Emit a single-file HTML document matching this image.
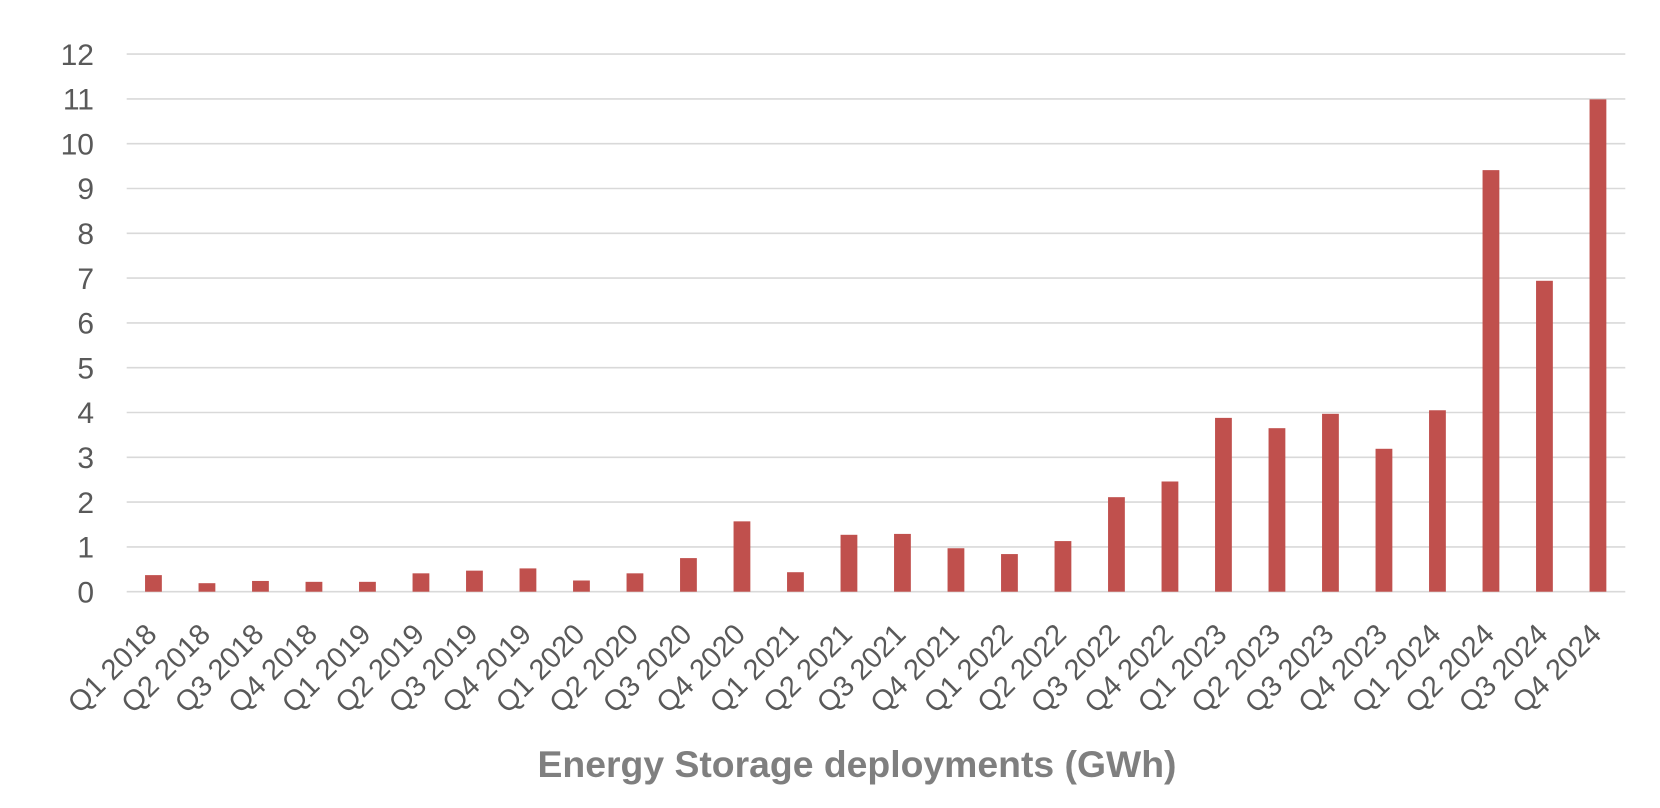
<!DOCTYPE html>
<html>
<head>
<meta charset="utf-8">
<style>
  html, body { margin: 0; padding: 0; background: #ffffff; }
  svg { display: block; }
  .yl { font-family: "Liberation Sans", Arial, sans-serif; font-size: 30px; fill: #595959; text-anchor: end; }
  .xl { font-family: "Liberation Sans", Arial, sans-serif; font-size: 29px; fill: #595959; text-anchor: end; }
  .title { font-family: "Liberation Sans", Arial, sans-serif; font-size: 37px; font-weight: bold; fill: #7f7f7f; text-anchor: middle; }
</style>
</head>
<body>
<svg width="1660" height="808" viewBox="0 0 1660 808" xmlns="http://www.w3.org/2000/svg">
  <rect x="0" y="0" width="1660" height="808" fill="#ffffff"/>
  <!-- gridlines -->
  <g stroke="#d9d9d9" stroke-width="1.6">
    <line x1="126.7" x2="1625.3" y1="54.1" y2="54.1"/>
    <line x1="126.7" x2="1625.3" y1="98.9" y2="98.9"/>
    <line x1="126.7" x2="1625.3" y1="143.7" y2="143.7"/>
    <line x1="126.7" x2="1625.3" y1="188.5" y2="188.5"/>
    <line x1="126.7" x2="1625.3" y1="233.3" y2="233.3"/>
    <line x1="126.7" x2="1625.3" y1="278.1" y2="278.1"/>
    <line x1="126.7" x2="1625.3" y1="322.9" y2="322.9"/>
    <line x1="126.7" x2="1625.3" y1="367.7" y2="367.7"/>
    <line x1="126.7" x2="1625.3" y1="412.5" y2="412.5"/>
    <line x1="126.7" x2="1625.3" y1="457.3" y2="457.3"/>
    <line x1="126.7" x2="1625.3" y1="502.1" y2="502.1"/>
    <line x1="126.7" x2="1625.3" y1="546.9" y2="546.9"/>
    <line x1="126.7" x2="1625.3" y1="591.7" y2="591.7"/>
  </g>
  <!-- y labels -->
  <g class="yl">
    <text x="94" y="64.8">12</text>
    <text x="94" y="109.6">11</text>
    <text x="94" y="154.4">10</text>
    <text x="94" y="199.2">9</text>
    <text x="94" y="244">8</text>
    <text x="94" y="288.8">7</text>
    <text x="94" y="333.6">6</text>
    <text x="94" y="378.4">5</text>
    <text x="94" y="423.2">4</text>
    <text x="94" y="468">3</text>
    <text x="94" y="512.8">2</text>
    <text x="94" y="557.6">1</text>
    <text x="94" y="602.4">0</text>
  </g>
  <!-- bars -->
  <g fill="#c0504d">
    <rect x="145.05" y="575.12" width="16.8" height="16.58"/>
    <rect x="198.55" y="583.19" width="16.8" height="8.51"/>
    <rect x="252.05" y="580.95" width="16.8" height="10.75"/>
    <rect x="305.55" y="581.84" width="16.8" height="9.86"/>
    <rect x="359.05" y="581.84" width="16.8" height="9.86"/>
    <rect x="412.55" y="573.33" width="16.8" height="18.37"/>
    <rect x="466.05" y="570.64" width="16.8" height="21.06"/>
    <rect x="519.55" y="568.40" width="16.8" height="23.30"/>
    <rect x="573.05" y="580.50" width="16.8" height="11.20"/>
    <rect x="626.55" y="573.33" width="16.8" height="18.37"/>
    <rect x="680.05" y="558.10" width="16.8" height="33.60"/>
    <rect x="733.55" y="521.36" width="16.8" height="70.34"/>
    <rect x="787.05" y="572.21" width="16.8" height="19.49"/>
    <rect x="840.55" y="534.80" width="16.8" height="56.90"/>
    <rect x="894.05" y="533.91" width="16.8" height="57.79"/>
    <rect x="947.55" y="548.24" width="16.8" height="43.46"/>
    <rect x="1001.05" y="554.07" width="16.8" height="37.63"/>
    <rect x="1054.55" y="541.08" width="16.8" height="50.62"/>
    <rect x="1108.05" y="497.17" width="16.8" height="94.53"/>
    <rect x="1161.55" y="481.49" width="16.8" height="110.21"/>
    <rect x="1215.05" y="417.88" width="16.8" height="173.82"/>
    <rect x="1268.55" y="428.18" width="16.8" height="163.52"/>
    <rect x="1322.05" y="413.84" width="16.8" height="177.86"/>
    <rect x="1375.55" y="448.79" width="16.8" height="142.91"/>
    <rect x="1429.05" y="410.26" width="16.8" height="181.44"/>
    <rect x="1482.55" y="170.13" width="16.8" height="421.57"/>
    <rect x="1536.05" y="280.79" width="16.8" height="310.91"/>
    <rect x="1589.55" y="99.35" width="16.8" height="492.35"/>
  </g>
  <!-- x labels -->
  <g class="xl">
    <text transform="translate(158.45,636) rotate(-45)">Q1 2018</text>
    <text transform="translate(211.95,636) rotate(-45)">Q2 2018</text>
    <text transform="translate(265.45,636) rotate(-45)">Q3 2018</text>
    <text transform="translate(318.95,636) rotate(-45)">Q4 2018</text>
    <text transform="translate(372.45,636) rotate(-45)">Q1 2019</text>
    <text transform="translate(425.95,636) rotate(-45)">Q2 2019</text>
    <text transform="translate(479.45,636) rotate(-45)">Q3 2019</text>
    <text transform="translate(532.95,636) rotate(-45)">Q4 2019</text>
    <text transform="translate(586.45,636) rotate(-45)">Q1 2020</text>
    <text transform="translate(639.95,636) rotate(-45)">Q2 2020</text>
    <text transform="translate(693.45,636) rotate(-45)">Q3 2020</text>
    <text transform="translate(746.95,636) rotate(-45)">Q4 2020</text>
    <text transform="translate(800.45,636) rotate(-45)">Q1 2021</text>
    <text transform="translate(853.95,636) rotate(-45)">Q2 2021</text>
    <text transform="translate(907.45,636) rotate(-45)">Q3 2021</text>
    <text transform="translate(960.95,636) rotate(-45)">Q4 2021</text>
    <text transform="translate(1014.45,636) rotate(-45)">Q1 2022</text>
    <text transform="translate(1067.95,636) rotate(-45)">Q2 2022</text>
    <text transform="translate(1121.45,636) rotate(-45)">Q3 2022</text>
    <text transform="translate(1174.95,636) rotate(-45)">Q4 2022</text>
    <text transform="translate(1228.45,636) rotate(-45)">Q1 2023</text>
    <text transform="translate(1281.95,636) rotate(-45)">Q2 2023</text>
    <text transform="translate(1335.45,636) rotate(-45)">Q3 2023</text>
    <text transform="translate(1388.95,636) rotate(-45)">Q4 2023</text>
    <text transform="translate(1442.45,636) rotate(-45)">Q1 2024</text>
    <text transform="translate(1495.95,636) rotate(-45)">Q2 2024</text>
    <text transform="translate(1549.45,636) rotate(-45)">Q3 2024</text>
    <text transform="translate(1602.95,636) rotate(-45)">Q4 2024</text>
  </g>
  <!-- title -->
  <text class="title" x="857" y="777" textLength="639" lengthAdjust="spacingAndGlyphs">Energy Storage deployments (GWh)</text>
</svg>
</body>
</html>
